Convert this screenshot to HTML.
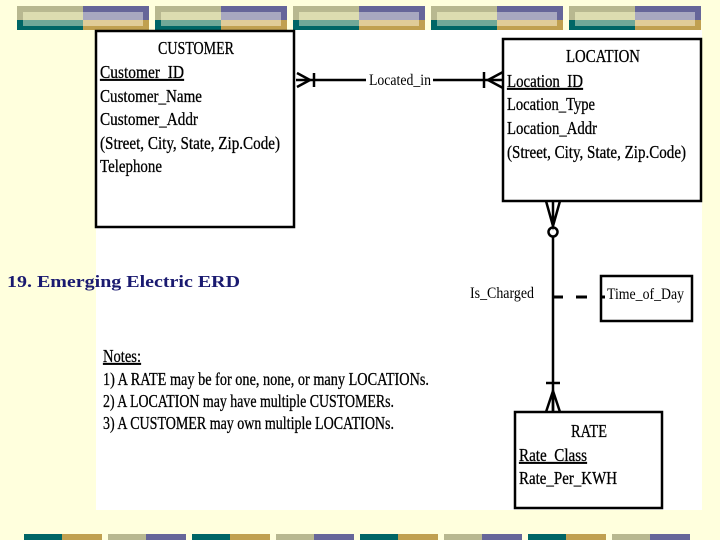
<!DOCTYPE html>
<html><head><style>
body{margin:0;width:720px;height:540px;background:#ffffdd;overflow:hidden;position:relative}
svg{position:absolute;left:0;top:0}
</style></head><body>
<svg width="720" height="540" xmlns="http://www.w3.org/2000/svg" font-family="Liberation Serif, serif">
<defs>
<g id="tile">
<rect x="0" y="0" width="66" height="24" fill="#b8b890"/>
<rect x="6" y="6" width="60" height="8" fill="#dcdcb0"/>
<rect x="0" y="14" width="66" height="10" fill="#006666"/>
<rect x="6" y="14" width="60" height="6" fill="#70a898"/>
<rect x="66" y="0" width="66" height="24" fill="#666699"/>
<rect x="66" y="6" width="60" height="8" fill="#a8a8c0"/>
<rect x="66" y="14" width="66" height="10" fill="#c0a050"/>
<rect x="66" y="14" width="60" height="6" fill="#e0cc98"/>
</g>
<g id="bt">
<rect x="0" y="0" width="38" height="6" fill="#006666"/>
<rect x="38" y="0" width="40" height="6" fill="#c0a050"/>
<rect x="84" y="0" width="38" height="6" fill="#b8b890"/>
<rect x="122" y="0" width="40" height="6" fill="#666699"/>
</g>
</defs>
<use href="#tile" x="17" y="6"/><use href="#tile" x="155" y="6"/><use href="#tile" x="293" y="6"/><use href="#tile" x="431" y="6"/><use href="#tile" x="569" y="6"/>
<use href="#bt" x="24" y="534"/><use href="#bt" x="192" y="534"/><use href="#bt" x="360" y="534"/><use href="#bt" x="528" y="534"/>
<rect x="96" y="30" width="606" height="480" fill="#fff"/>
<g fill="none" stroke="#000" stroke-width="2.5">
<rect x="96" y="31" width="198" height="196"/>
<rect x="503" y="39" width="198" height="162"/>
<rect x="601" y="276" width="91" height="45"/>
<rect x="515" y="412" width="147" height="96"/>
<line x1="296" y1="80" x2="366" y2="80"/><line x1="433" y1="80" x2="503" y2="80"/>
<path d="M297 73 L310 80 L297 87"/><line x1="314" y1="73" x2="314" y2="87"/>
<path d="M503 72 L488 80 L503 88"/><line x1="484" y1="72" x2="484" y2="88"/>
<line x1="553" y1="237" x2="553" y2="412"/>
<path d="M546 201 L553 226 L560 201 M553 201 L553 226"/>
<circle cx="553" cy="232" r="4.5"/>
<line x1="546" y1="383" x2="560" y2="383"/>
<path d="M546 412 L553 391 L560 412 M553 391 L553 412"/>
<path d="M553 297 H563 M576 297 H587 M600 297 H605" stroke-width="3"/>
</g>
<g font-size="18" fill="#000" stroke="#000" stroke-width="0.3">
<text x="196" y="54" text-anchor="middle" textLength="76" lengthAdjust="spacingAndGlyphs">CUSTOMER</text>
<text x="100" y="78" textLength="84" lengthAdjust="spacingAndGlyphs" text-decoration="underline">Customer_ID</text>
<text x="100" y="102" textLength="102" lengthAdjust="spacingAndGlyphs">Customer_Name</text>
<text x="100" y="125" textLength="98" lengthAdjust="spacingAndGlyphs">Customer_Addr</text>
<text x="100" y="149" textLength="180" lengthAdjust="spacingAndGlyphs">(Street, City, State, Zip.Code)</text>
<text x="100" y="172" textLength="62" lengthAdjust="spacingAndGlyphs">Telephone</text>
<text x="566" y="62" textLength="74" lengthAdjust="spacingAndGlyphs">LOCATION</text>
<text x="507" y="87" textLength="76" lengthAdjust="spacingAndGlyphs" text-decoration="underline">Location_ID</text>
<text x="507" y="110" textLength="88" lengthAdjust="spacingAndGlyphs">Location_Type</text>
<text x="507" y="134" textLength="90" lengthAdjust="spacingAndGlyphs">Location_Addr</text>
<text x="507" y="158" textLength="179" lengthAdjust="spacingAndGlyphs">(Street, City, State, Zip.Code)</text>
<text x="571" y="437" textLength="36" lengthAdjust="spacingAndGlyphs">RATE</text>
<text x="519" y="461" textLength="68" lengthAdjust="spacingAndGlyphs" text-decoration="underline">Rate_Class</text>
<text x="519" y="484" textLength="98" lengthAdjust="spacingAndGlyphs">Rate_Per_KWH</text>
<text x="103" y="362" textLength="38" lengthAdjust="spacingAndGlyphs" text-decoration="underline">Notes:</text>
<text x="103" y="385" textLength="326" lengthAdjust="spacingAndGlyphs">1) A RATE may be for one, none, or many LOCATIONs.</text>
<text x="103" y="407" textLength="291" lengthAdjust="spacingAndGlyphs">2) A LOCATION may have multiple CUSTOMERs.</text>
<text x="103" y="429" textLength="291" lengthAdjust="spacingAndGlyphs">3) A CUSTOMER may own multiple LOCATIONs.</text>
</g>
<g font-size="16" fill="#000">
<text x="369" y="85" textLength="62" lengthAdjust="spacingAndGlyphs">Located_in</text>
<text x="470" y="298" textLength="64" lengthAdjust="spacingAndGlyphs">Is_Charged</text>
<text x="607" y="299" textLength="77" lengthAdjust="spacingAndGlyphs">Time_of_Day</text>
</g>
<text x="7" y="287" font-size="17" font-weight="bold" fill="#1a1a70" textLength="233" lengthAdjust="spacingAndGlyphs">19. Emerging Electric ERD</text>
</svg>
</body></html>
